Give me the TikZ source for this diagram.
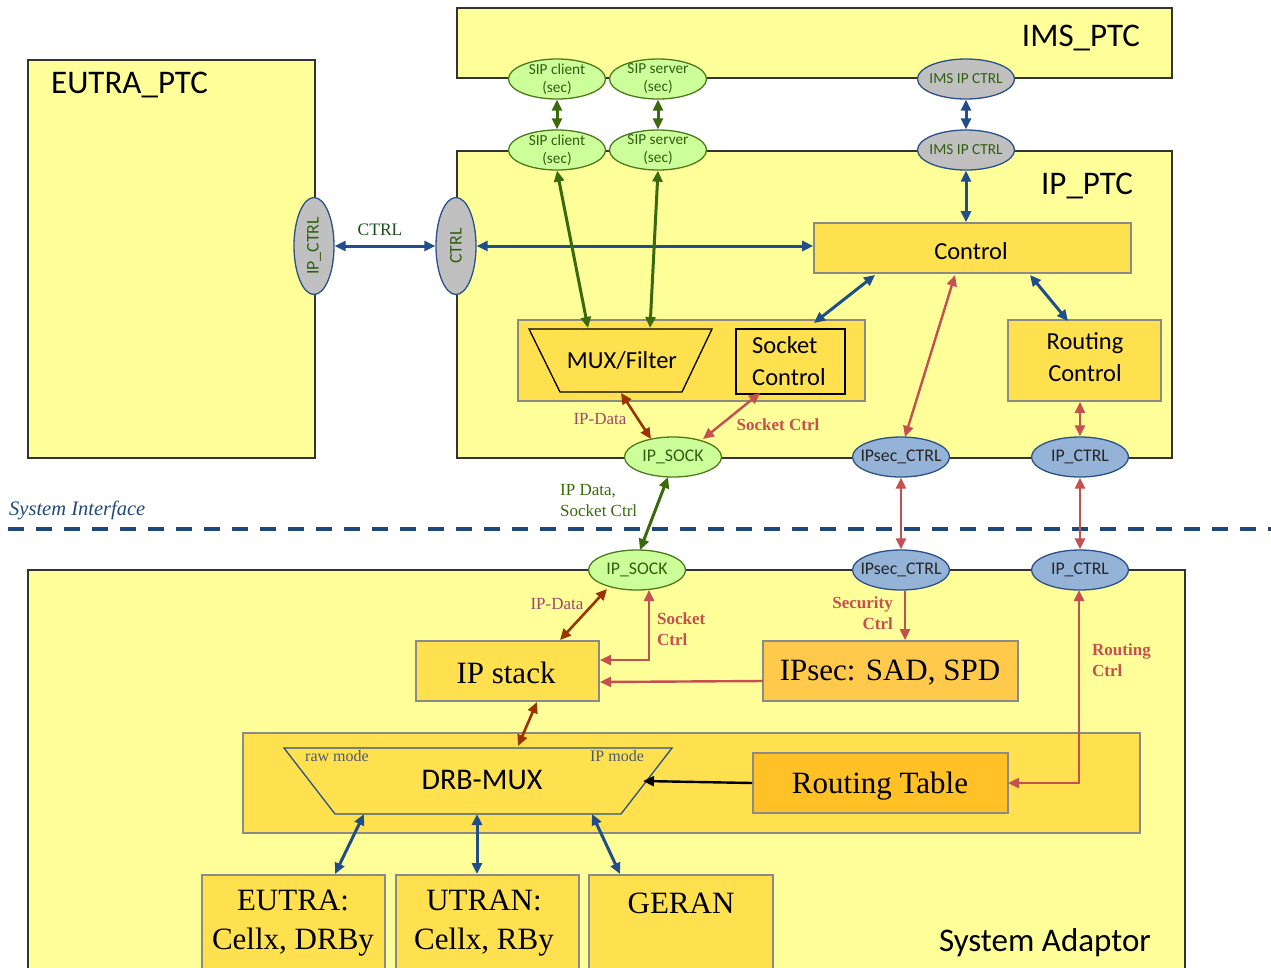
\documentclass[tikz,border=0pt]{standalone}
\usepackage{fontspec}
\setmainfont{Liberation Serif}
\newfontfamily\calib{Carlito}
\usetikzlibrary{arrows.meta,shapes.geometric}
\definecolor{ltyel}{HTML}{FFFF99}
\definecolor{gold}{HTML}{FFE14F}
\definecolor{ipsecc}{HTML}{FFC94C}
\definecolor{rtc}{HTML}{FFC125}
\definecolor{grnfill}{HTML}{CCFF99}
\definecolor{grnline}{HTML}{4E7A1E}
\definecolor{grntext}{HTML}{2F5F10}
\definecolor{grayfill}{HTML}{C0C0C0}
\definecolor{bluefill}{HTML}{95B3D7}
\definecolor{blueline}{HTML}{2A5189}
\definecolor{arrblue}{HTML}{1F4E8A}
\definecolor{arrgreen}{HTML}{3A6A0C}
\definecolor{arrred}{HTML}{C4504F}
\definecolor{arrbrown}{HTML}{9A3300}
\definecolor{mauve}{HTML}{A04770}
\definecolor{sitext}{HTML}{1F497D}
\definecolor{modetext}{HTML}{4A5A70}
\definecolor{boxline}{HTML}{8A8A8A}
\definecolor{ctrltext}{HTML}{1E4D1E}
\begin{document}
\begin{tikzpicture}[x=1pt,y=-1pt,
  >={Triangle[length=11pt,width=10pt]},
  ptc/.style={draw=black!80, line width=1.6pt, fill=ltyel},
  gbox/.style={draw=boxline, line width=1.6pt, fill=gold, inner sep=0pt},
  ell/.style={ellipse, inner sep=0pt, line width=1.3pt, minimum width=97pt, minimum height=40pt},
  gell/.style={ell, fill=grnfill, draw=grnline},
  gyell/.style={ell, fill=grayfill, draw=blueline},
  bell/.style={ell, fill=bluefill, draw=blueline},
  ellt/.style={inner sep=0pt, align=center, font={\calib\fontsize{15.3}{18}\selectfont}},
  ellb/.style={inner sep=0pt, font={\calib\fontsize{17.8}{20}\selectfont}},
  title/.style={inner sep=0pt, font={\calib\fontsize{33}{36}\selectfont}},
  ctext/.style={inner sep=0pt, align=center, font={\calib\fontsize{24.5}{32}\selectfont}},
  stext/.style={inner sep=0pt, align=center, font={\fontsize{31}{39}\selectfont}},
  lbl/.style={inner sep=0pt, font={\bfseries\fontsize{17}{21}\selectfont}, text=arrred},
  ba/.style={<->, draw=arrblue, line width=3pt},
  ga/.style={<->, draw=arrgreen, line width=3pt},
  ra/.style={<->, draw=arrred, line width=2.4pt},
  bra/.style={<->, draw=arrbrown, line width=2.6pt}]
\useasboundingbox (0,0) rectangle (1271,967);
\clip (0,0) rectangle (1271,967);
\fill[white] (0,0) rectangle (1271,967);

% big containers
\node[ptc, minimum width=287pt, minimum height=398pt, inner sep=0pt] (eutraptc) at (171.5,259) {};
\node[title, anchor=west] (eutraptcT) at (51,85) {EUTRA\_PTC};
\node[ptc, minimum width=715pt, minimum height=70pt, inner sep=0pt] (imsptc) at (814.5,43) {};
\node[title] (imsptcT) at (1081,38) {IMS\_PTC};
\node[ptc, minimum width=715pt, minimum height=307pt, inner sep=0pt] (ipptc) at (814.5,304.5) {};
\node[title] (ipptcT) at (1087,186) {IP\_PTC};
\node[ptc, minimum width=1157pt, minimum height=430pt, inner sep=0pt] (sysad) at (606.5,785) {};
\node[title] (sysadT) at (1045,943) {System Adaptor};

% system interface
\coordinate (siA) at (8,529);
\coordinate (siB) at (1275,529);
\draw[sitext, line width=4pt, dash pattern=on 16pt off 12pt] (siA) -- (siB);
\node[inner sep=0pt, anchor=west, text=sitext, font={\itshape\fontsize{20.5}{24}\selectfont}] (siT) at (9,510) {System Interface};

% IP_PTC internals
\node[gbox, minimum width=317pt, minimum height=50pt] (control) at (972.5,248) {};
\node[ctext] (controlT) at (971,251) {Control};
\node[gbox, minimum width=347pt, minimum height=81pt] (muxgrp) at (691.5,360.5) {};
\coordinate (m1) at (529,329);
\coordinate (m2) at (712,329);
\coordinate (m3) at (682,392);
\coordinate (m4) at (560,392);
\draw[line width=1.3pt, fill=gold] (m1) -- (m2) -- (m3) -- (m4) -- cycle;
\node[ctext] (mux) at (622,361) {MUX/Filter};
\node[draw=black, line width=1.6pt, fill=gold, minimum width=109pt, minimum height=65pt, inner sep=0pt] (sockctl) at (790.5,361.5) {};
\node[ctext, align=left] (sockctlT) at (789,361) {Socket\\Control};
\node[gbox, minimum width=153pt, minimum height=81pt] (routing) at (1084.5,360.5) {};
\node[ctext] (routingT) at (1085,357) {Routing\\Control};

% ellipses top
\node[gell] (sipcT) at (557,79) {};
\node[ellt, text=grntext] (sipcTt) at (557,79) {SIP client\\(sec)};
\node[gell] (sipsT) at (658,79) {};
\node[ellt, text=grntext] (sipsTt) at (658,79) {SIP server\\(sec)};
\node[gyell] (imsT) at (966,79) {};
\node[ellt, text=grntext] (imsTt) at (966,79) {IMS IP CTRL};
\node[gell] (sipcL) at (557,150) {};
\node[ellt, text=grntext] (sipcLt) at (557,150) {SIP client\\(sec)};
\node[gell] (sipsL) at (658,150) {};
\node[ellt, text=grntext] (sipsLt) at (658,150) {SIP server\\(sec)};
\node[gyell] (imsL) at (966,150) {};
\node[ellt, text=grntext] (imsLt) at (966,150) {IMS IP CTRL};

% vertical ellipses
\node[gyell, minimum width=40pt, minimum height=97pt] (ipctrlV) at (314,246) {};
\node[ellb, rotate=90, text=grntext] (ipctrlVt) at (314,246) {IP\_CTRL};
\node[gyell, minimum width=40pt, minimum height=97pt] (ctrlV) at (456,246) {};
\node[ellb, rotate=90, text=grntext] (ctrlVt) at (456,246) {CTRL};
\node[inner sep=0pt, text=ctrltext, font={\fontsize{17.5}{20}\selectfont}] (ctrlLbl) at (380,230) {CTRL};

% interface ellipses
\node[gell] (ipsockU) at (673,457) {};
\node[ellb, text=grntext] (ipsockUt) at (673,457) {IP\_SOCK};
\node[bell] (ipsecU) at (901,457) {};
\node[ellb, text=black!85] (ipsecUt) at (901,457) {IPsec\_CTRL};
\node[bell] (ipctrlU) at (1080,457) {};
\node[ellb, text=black!85] (ipctrlUt) at (1080,457) {IP\_CTRL};
\node[gell] (ipsockL) at (637,570) {};
\node[ellb, text=grntext] (ipsockLt) at (637,570) {IP\_SOCK};
\node[bell] (ipsecL) at (901,570) {};
\node[ellb, text=black!85] (ipsecLt) at (901,570) {IPsec\_CTRL};
\node[bell] (ipctrlL) at (1080,570) {};
\node[ellb, text=black!85] (ipctrlLt) at (1080,570) {IP\_CTRL};

% System adaptor internals
\node[gbox, minimum width=183pt, minimum height=60pt] (ipstack) at (507.5,671) {};
\node[stext] (ipstackT) at (506,673) {IP stack};
\node[gbox, fill=ipsecc, minimum width=255pt, minimum height=60pt] (ipsecbox) at (890.5,671) {};
\node[stext] (ipsecboxT) at (890,673) {IPsec: SAD, SPD};
\node[gbox, minimum width=897pt, minimum height=100pt] (drbgrp) at (691.5,783) {};
\coordinate (d1) at (284,748);
\coordinate (d2) at (672,748);
\coordinate (d3) at (621,814);
\coordinate (d4) at (335,814);
\draw[blueline, line width=1.3pt, fill=gold] (d1) -- (d2) -- (d3) -- (d4) -- cycle;
\node[inner sep=0pt, font={\calib\fontsize{30}{34}\selectfont}] (drbmux) at (482,780) {DRB-MUX};
\node[inner sep=0pt, text=modetext, font={\fontsize{16}{18}\selectfont}] (rawT) at (337,756) {raw mode};
\node[inner sep=0pt, text=modetext, font={\fontsize{16}{18}\selectfont}] (ipmT) at (617,756) {IP mode};
\node[gbox, fill=rtc, minimum width=255pt, minimum height=60pt] (rtable) at (880.5,783) {};
\node[stext] (rtableT) at (880,786) {Routing Table};
\node[gbox, minimum width=183pt, minimum height=120pt] (eutra) at (293.5,935) {};
\node[stext] (eutraT) at (293,923) {EUTRA:\\Cellx, DRBy};
\node[gbox, minimum width=183pt, minimum height=120pt] (utran) at (487.5,935) {};
\node[stext] (utranT) at (484,923) {UTRAN:\\Cellx, RBy};
\node[gbox, minimum width=184pt, minimum height=120pt] (geran) at (681,935) {};
\node[stext] (geranT) at (681,903) {GERAN};

% labels
\node[inner sep=0pt, text=mauve, font={\fontsize{17}{20}\selectfont}] (ipdataU) at (600,419) {IP-Data};
\node[lbl] (sockctrlU) at (778,425) {Socket Ctrl};
\node[inner sep=0pt, anchor=west, align=left, text=arrgreen, font={\fontsize{17}{21}\selectfont}] (ipdsc) at (560,501) {IP Data,\\Socket Ctrl};
\node[inner sep=0pt, text=mauve, font={\fontsize{17}{20}\selectfont}] (ipdataL) at (557,604) {IP-Data};
\node[lbl, anchor=west, align=left] (sockctrlL) at (657,629) {Socket\\Ctrl};
\node[lbl, anchor=east, align=right] (secctrl) at (893,613) {Security\\Ctrl};
\node[lbl, anchor=west, align=left] (routctrl) at (1092,660) {Routing\\Ctrl};

% connector endpoints
\coordinate (muxin1) at (588,328);
\coordinate (muxin2) at (650,328);
\coordinate (ctlA) at (875,275);
\coordinate (sockA) at (814,323);
\coordinate (ctlB) at (1030,275);
\coordinate (routA) at (1068,321);
\coordinate (ctlC) at (955,275);
\coordinate (ipsecUa) at (905,437);
\coordinate (muxout) at (621,393);
\coordinate (ipsockUa) at (651,439);
\coordinate (sockout) at (760,393);
\coordinate (ipsockUb) at (703,439);
\coordinate (ipsockUc) at (668,477);
\coordinate (ipsockLa) at (640,550);
\coordinate (ipstackA) at (560,640);
\coordinate (ipsockLb) at (607,589);
\coordinate (ipsockLc) at (649,590);
\coordinate (ipstackB) at (600,660);
\coordinate (ipstackC) at (600,682);
\coordinate (ipsecboxA) at (763,681);
\coordinate (ipctrlLa) at (1079,590);
\coordinate (rtableA) at (1008,783);
\coordinate (ipstackD) at (537,702);
\coordinate (drbA) at (518,746);
\coordinate (drbB) at (643,781);
\coordinate (drbC) at (364,814);
\coordinate (drbD) at (477,814);
\coordinate (drbE) at (592,814);
\coordinate (eutraA) at (335,874);
\coordinate (utranA) at (477,874);
\coordinate (geranA) at (620,874);

% connectors
\draw[ga] (sipcT.south) -- (sipcL.north);
\draw[ga] (sipsT.south) -- (sipsL.north);
\draw[ba] (imsT.south) -- (imsL.north);
\draw[ba] (imsL.south) -- (imsL.south |- control.north);
\draw[ba] (ipctrlV.east) -- (ctrlV.west);
\draw[ba] (ctrlV.east) -- (ctrlV.east -| control.west);
\draw[ga] (sipcL.south) -- (muxin1);
\draw[ga] (sipsL.south) -- (muxin2);
\draw[ba] (ctlA) -- (sockA);
\draw[ba] (ctlB) -- (routA);
\draw[ra] (ctlC) -- (ipsecUa);
\draw[ra] (ipctrlU.north |- routing.south) -- (ipctrlU.north);
\draw[bra] (muxout) -- (ipsockUa);
\draw[ra] (sockout) -- (ipsockUb);
\draw[ga] (ipsockUc) -- (ipsockLa);
\draw[ra] (ipsecU.south) -- (ipsecL.north);
\draw[ra] (ipctrlU.south) -- (ipctrlL.north);
\draw[bra] (ipstackA) -- (ipsockLb);
\draw[ra] (ipsockLc) |- (ipstackB);
\draw[->, draw=arrred, line width=2.4pt] (ipsecL.south -| 905,0) -- (ipsecbox.north -| 905,0);
\draw[->, draw=arrred, line width=2.4pt] (ipsecboxA) -- (ipstackC);
\draw[ra] (ipctrlLa) |- (rtableA);
\draw[bra] (ipstackD) -- (drbA);
\draw[->, draw=black, line width=2.4pt] (rtable.west) -- (drbB);
\draw[ba] (drbC) -- (eutraA);
\draw[ba] (drbD) -- (utranA);
\draw[ba] (drbE) -- (geranA);
\end{tikzpicture}
\end{document}
